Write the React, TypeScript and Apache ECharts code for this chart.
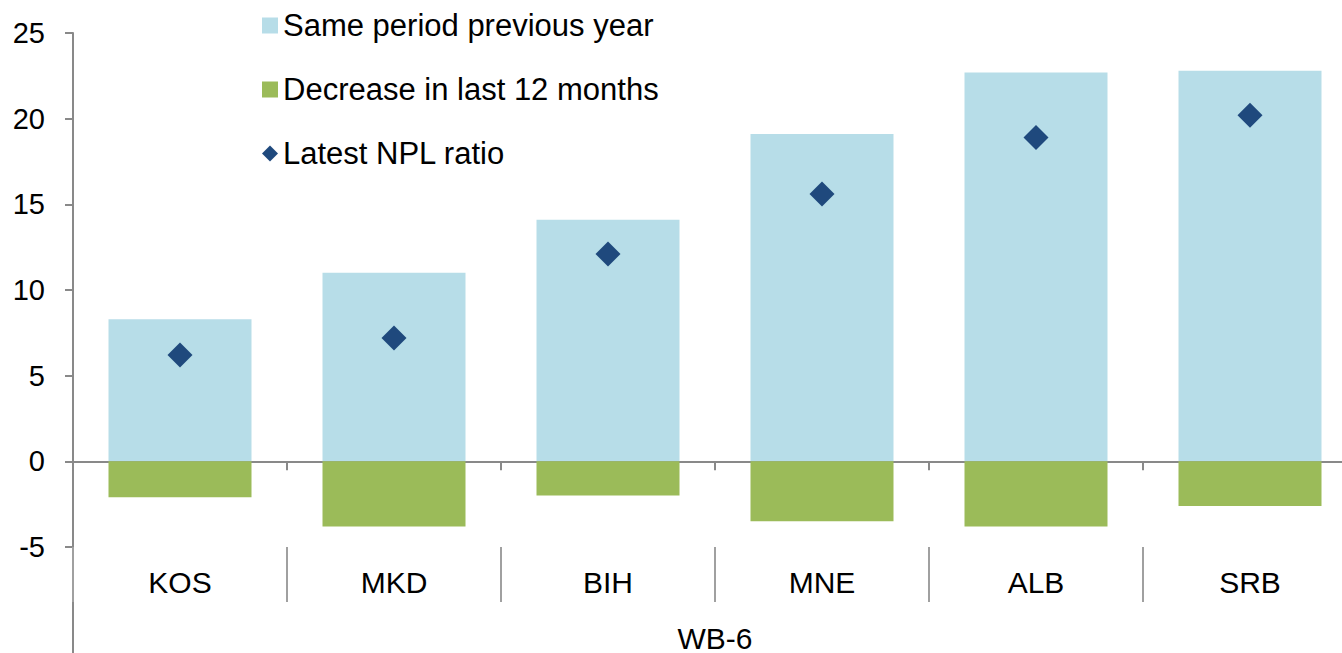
import React, { useEffect, useRef } from "react";
import * as echarts from "echarts";

const categories = ["KOS", "MKD", "BIH", "MNE", "ALB", "SRB"];
const samePeriodPrevYear = [8.3, 11.0, 14.1, 19.1, 22.7, 22.8];
const decreaseLast12m = [-2.1, -3.8, -2.0, -3.5, -3.8, -2.6];
const latestNpl = [6.2, 7.2, 12.1, 15.6, 18.9, 20.2];
const groupName = "WB-6";

const AXIS = "#898989";
const FONT = "Liberation Sans, Arial, sans-serif";

export default function App() {
  const ref = useRef<HTMLDivElement>(null);
  useEffect(() => {
    document.body.style.margin = "0";
    const chart = echarts.init(ref.current!, null, { renderer: "svg" });
    chart.setOption({
      animation: false,
      textStyle: { fontFamily: FONT },
      grid: { left: 73, top: 33, bottom: 106, width: 1284, outerBoundsMode: "none", containLabel: false },
      legend: {
        orient: "vertical",
        left: 257,
        top: 5,
        itemWidth: 16,
        itemHeight: 16,
        itemGap: 33,
        textStyle: { fontSize: 31, color: "#000", fontFamily: FONT },
        data: [
          { name: "Same period previous year", icon: "rect" },
          { name: "Decrease in last 12 months", icon: "rect" },
          { name: "Latest NPL ratio", icon: "diamond" },
        ],
      },
      xAxis: [
        {
          type: "category",
          data: categories,
          position: "bottom",
          axisLine: { onZero: true, lineStyle: { color: AXIS, width: 2 } },
          axisTick: { show: true, length: 9, lineStyle: { color: AXIS, width: 2 } },
          axisLabel: { show: false },
          splitLine: { show: false },
        },
        {
          type: "category",
          data: categories,
          position: "bottom",
          axisLine: { show: false, onZero: false },
          axisTick: { show: true, length: 55, lineStyle: { color: "#a0a0a0", width: 2 } },
          axisLabel: { show: true, fontSize: 30, color: "#000", margin: 20, fontFamily: FONT },
          name: groupName,
          nameLocation: "middle",
          nameGap: 76,
          nameTextStyle: { fontSize: 30, color: "#000", fontFamily: FONT },
        },
      ],
      yAxis: {
        type: "value",
        min: -5,
        max: 25,
        interval: 5,
        axisLine: { show: true, lineStyle: { color: AXIS, width: 2 } },
        axisTick: { show: true, length: 8, lineStyle: { color: AXIS, width: 2 } },
        axisLabel: { fontSize: 29, color: "#000", margin: 28, fontFamily: FONT },
        splitLine: { show: false },
      },
      graphic: [
        {
          type: "line",
          shape: { x1: 73, y1: 547, x2: 73, y2: 653 },
          style: { stroke: AXIS, lineWidth: 2 },
          silent: true,
        },
      ],
      series: [
        {
          name: "Same period previous year",
          type: "bar",
          stack: "s",
          xAxisIndex: 0,
          data: samePeriodPrevYear,
          barWidth: 143,
          itemStyle: { color: "#b7dde8" },
        },
        {
          name: "Decrease in last 12 months",
          type: "bar",
          stack: "s",
          xAxisIndex: 0,
          data: decreaseLast12m,
          barWidth: 143,
          itemStyle: { color: "#9bbb59" },
        },
        {
          name: "Latest NPL ratio",
          type: "scatter",
          xAxisIndex: 0,
          data: latestNpl,
          symbol: "diamond",
          symbolSize: 25,
          itemStyle: { color: "#1f497d", opacity: 1 },
          z: 5,
        },
      ],
    });
    return () => chart.dispose();
  }, []);
  return <div ref={ref} style={{ width: 1342, height: 653 }} />;
}
